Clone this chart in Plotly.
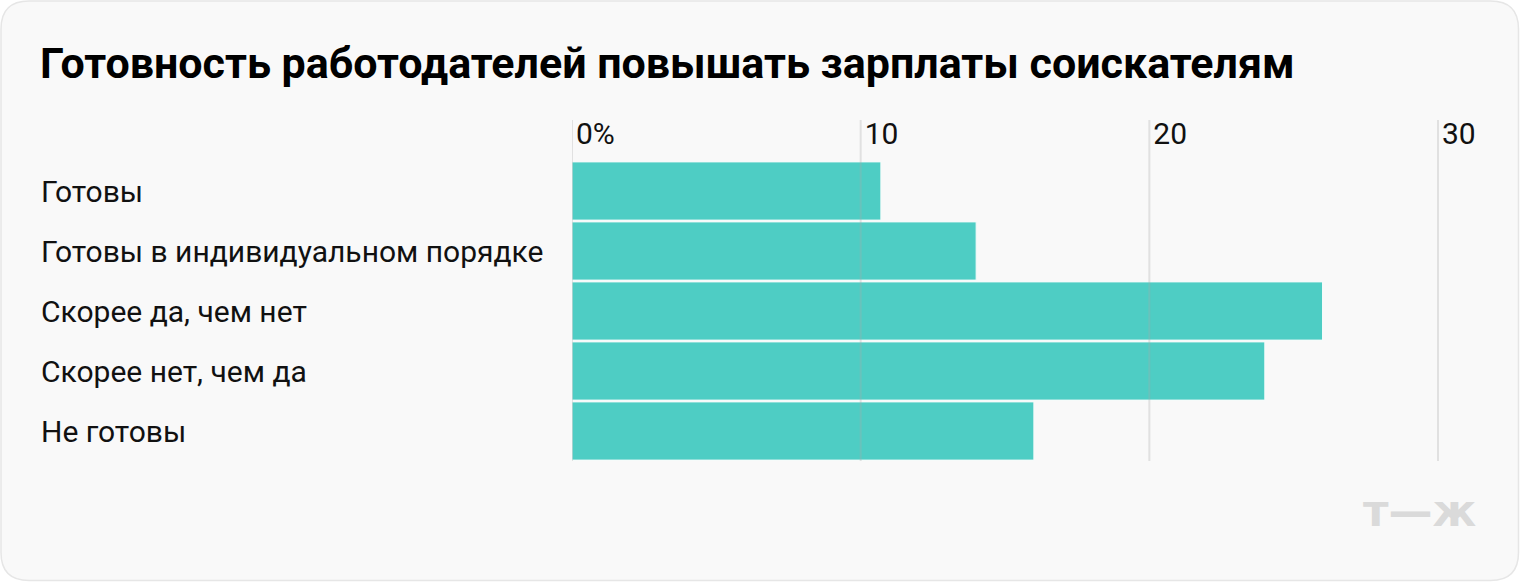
import plotly.graph_objects as go

categories = ["Готовы", "Готовы в индивидуальном порядке", "Скорее да, чем нет",
              "Скорее нет, чем да", "Не готовы"]
values = [10.7, 14, 26, 24, 16]
tick_vals = [0, 10, 20, 30]
tick_text = ["0%", "10", "20", "30"]
title_text = "Готовность работодателей повышать зарплаты соискателям"
logo_text = "т—ж"

W_PX, H_PX = 1520, 582
L, R, T, B = 572, 40, 117, 121
PW = W_PX - L - R
PH = H_PX - T - B


def xp(px):
    return (px - L) / PW


def yp(py):
    return (H_PX - B - py) / PH


FONT = "Roboto, Inter, Arial, sans-serif"

fig = go.Figure()
fig.add_trace(go.Bar(
    x=values, y=categories, orientation="h",
    marker=dict(color="#4ECDC4", line=dict(color="#f4fbfa", width=1)),
    hoverinfo="x+y", width=0.97,
))

# card background
x0, x1, y0, y1, r = 1, 1518.5, 1, 580.5, 28
path = (
    f"M {xp(x0 + r)},{yp(y0)} L {xp(x1 - r)},{yp(y0)} "
    f"Q {xp(x1)},{yp(y0)} {xp(x1)},{yp(y0 + r)} "
    f"L {xp(x1)},{yp(y1 - r)} Q {xp(x1)},{yp(y1)} {xp(x1 - r)},{yp(y1)} "
    f"L {xp(x0 + r)},{yp(y1)} Q {xp(x0)},{yp(y1)} {xp(x0)},{yp(y1 - r)} "
    f"L {xp(x0)},{yp(y0 + r)} Q {xp(x0)},{yp(y0)} {xp(x0 + r)},{yp(y0)} Z"
)
fig.add_shape(type="path", path=path, xref="paper", yref="paper",
              fillcolor="#f9f9f9", line=dict(color="#e6e6e6", width=1.5), layer="below")

# grid lines drawn over the bars, at the tick values (start slightly below the top edge)
for tv in tick_vals:
    fig.add_shape(type="line", xref="x", yref="paper", x0=tv, x1=tv, y0=0, y1=yp(120),
                  line=dict(color="rgba(170,170,170,0.3)", width=2), layer="above")

annotations = [
    dict(text=f"<b>{title_text}</b>", xref="paper", yref="paper",
         x=xp(38), y=yp(63), xanchor="left", yanchor="middle", showarrow=False,
         font=dict(family=FONT, size=43, color="#000000")),
    dict(text=f"<b>{logo_text}</b>", xref="paper", yref="paper",
         x=xp(1479), y=yp(510), xanchor="right", yanchor="middle", showarrow=False,
         font=dict(family="DejaVu Sans, sans-serif", size=44, color="#dadada")),
]
for c in categories:
    annotations.append(dict(text=c, xref="paper", yref="y", x=xp(39), y=c,
                            xanchor="left", yanchor="middle", showarrow=False,
                            font=dict(family=FONT, size=30, color="#111111")))

fig.update_layout(
    width=W_PX, height=H_PX,
    margin=dict(l=L, r=R, t=T, b=B, pad=0),
    paper_bgcolor="#ffffff", plot_bgcolor="rgba(0,0,0,0)",
    showlegend=False, bargap=0.03,
    annotations=annotations,
    xaxis=dict(range=[0, PW / (866 / 30)], side="top", tickvals=tick_vals, ticktext=tick_text,
               ticklabelposition="inside right", ticklabelshift=4,
               showgrid=False, zeroline=False, showline=False, ticks="",
               tickfont=dict(family=FONT, size=30, color="#111111"), fixedrange=True),
    yaxis=dict(categoryorder="array", categoryarray=categories,
               range=[4.5, 4.5 - PH / 60.0],
               showticklabels=False, showgrid=False, zeroline=False, ticks="",
               fixedrange=True),
)

fig.write_html("out.html", config={"displayModeBar": False},
               post_script="document.body.style.margin='0';document.body.style.padding='0';")
